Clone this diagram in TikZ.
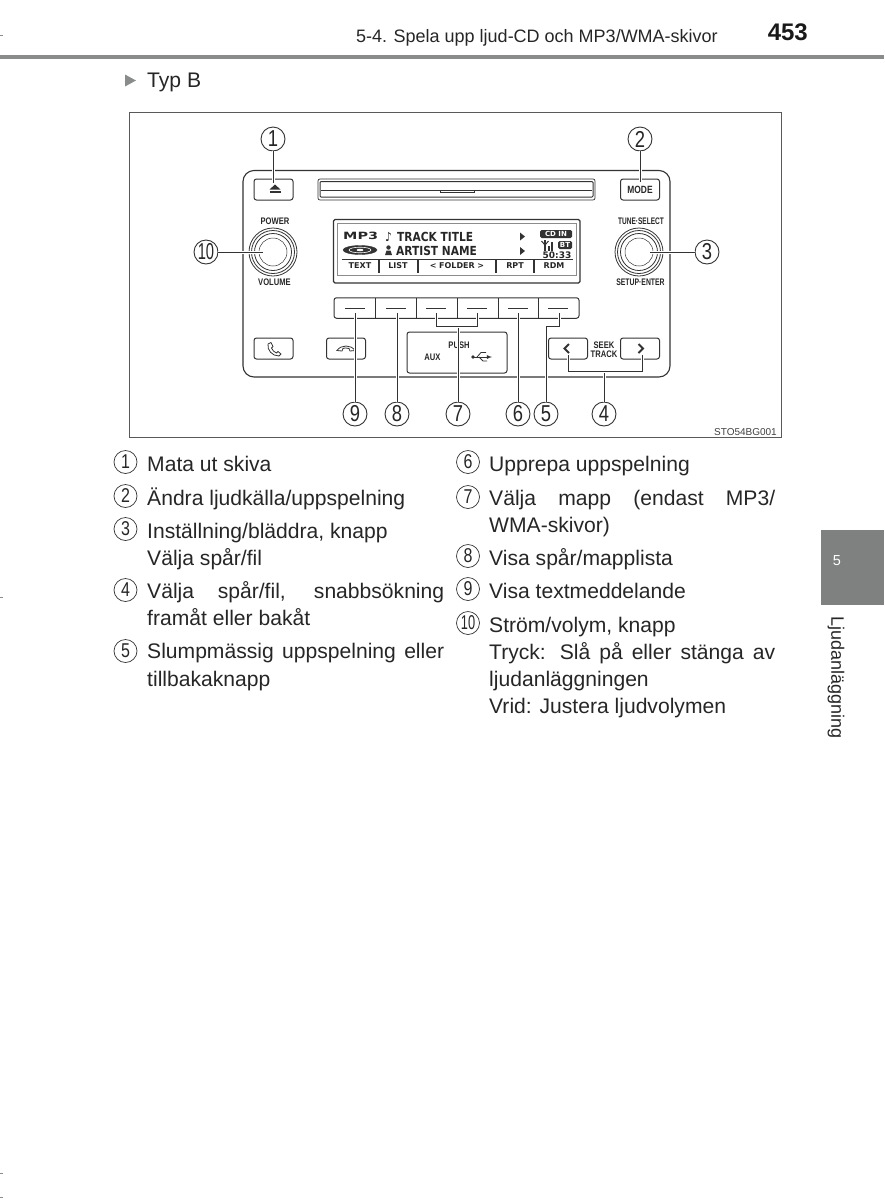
\documentclass[tikz,border=0pt]{standalone}
\usepackage{fontspec}
\setmainfont{Liberation Sans}
\newfontfamily\narrowfont[FakeStretch=0.8]{Liberation Sans}
\newfontfamily\dispfont{DejaVu Sans}
\newfontfamily\tightfont[FakeStretch=0.85]{DejaVu Sans}
\newcommand{\fitline}[2]{\makebox[#1pt][s]{#2}}
\definecolor{inkgray}{HTML}{333333}
\definecolor{rulegray}{HTML}{8A8C8C}
\definecolor{tabgray}{HTML}{7F8080}
\tikzset{
	bodyline/.style={anchor=base west, inner sep=0pt, text=black!85, font=\fontsize{21.1}{21.1}\selectfont},
	listnum/.style={draw=inkgray, circle, line width=0.7pt, minimum size=23pt, inner sep=0pt, text=black!85, font=\narrowfont\fontsize{20}{20}\selectfont},
	callnum/.style={draw=inkgray, circle, line width=0.9pt, fill=white, minimum size=24pt, inner sep=0pt, text=black!85, font=\narrowfont\fontsize{23}{23}\selectfont},
	panelbtn/.style={draw=inkgray, rectangle, rounded corners=2.5pt, line width=1pt, minimum width=39pt, minimum height=21pt, inner sep=0pt},
	paneltext/.style={inner sep=0pt, text=black!85, font=\narrowfont\bfseries\fontsize{9.5}{10.5}\selectfont, align=center},
	disptext/.style={inner sep=0pt, text=black!85, font=\tightfont\bfseries\fontsize{12.5}{12.5}\selectfont},
	softtext/.style={inner sep=0pt, text=black!85, font=\dispfont\bfseries\fontsize{8}{8}\selectfont},
	leader/.style={draw=inkgray, line width=1pt, preaction={draw=white, line width=3pt}},
}
\begin{document}
\begin{tikzpicture}[x=1pt, y=-1pt]
	\useasboundingbox (0, 0) rectangle (884, 1200);
	% Page head:
	\node[inner sep=0pt, anchor=base east, text=black!85, font=\fontsize{18}{18}\selectfont] (headtitle) at (718, 42){5-4. Spela upp ljud-CD och MP3/WMA-skivor};
	\node[inner sep=0pt, anchor=base east, text=black!90, font=\bfseries\fontsize{24}{24}\selectfont] (pagenum) at (808, 40){453};
	\fill[rulegray] (0, 55) rectangle (884, 59);
	\fill[rulegray] (125, 74.5) -- (136, 80.5) -- (125, 86.5) -- cycle;
	\node[bodyline] (typb) at (147, 87){Typ B};
	\fill[rulegray] (0, 34.5) rectangle (3, 35.5);
	\fill[rulegray] (0, 596.5) rectangle (3, 597.5);
	\fill[rulegray] (0, 1172.5) rectangle (3, 1173.5);
	\fill[rulegray] (0, 1196.5) rectangle (3, 1197.5);
	% Frame and radio body:
	\draw[draw=black!65, line width=1pt] (129.5, 112.5) rectangle (781, 437.5);
	\draw[draw=inkgray, line width=1.1pt, rounded corners=11pt] (243, 170.5) rectangle (670, 377);
	\node[panelbtn] (eject) at (273.5, 189.5){};
	\node[panelbtn, paneltext, draw=inkgray, font=\narrowfont\bfseries\fontsize{10.5}{10.5}\selectfont] (mode) at (640, 189.5){MODE};
	\draw[draw=inkgray, line width=0.7pt, rounded corners=2pt] (318, 179) rectangle (595, 200);
	\draw[draw=inkgray, line width=1pt, rounded corners=1pt] (320, 181.5) rectangle (593, 197);
	\draw[draw=inkgray, line width=0.5pt] (321, 190) -- (592, 190);
	\draw[draw=inkgray, line width=0.5pt] (440, 190) -- (440, 192.5) -- (474, 192.5) -- (474, 190);
	\fill[inkgray] (275, 184.5) -- (280.5, 189.5) -- (269.5, 189.5) -- cycle;
	\fill[inkgray] (269.5, 190.5) rectangle (280.5, 192.5);
	% Knobs:
	\node[paneltext] (powerlabel) at (275, 221){POWER};
	\node[paneltext] (volumelabel) at (274.5, 282){VOLUME};
	\node[paneltext] (tunelabel) at (641, 221){\scalebox{0.86}[1]{TUNE·SELECT}};
	\node[paneltext] (setuplabel) at (640.5, 282){\scalebox{0.9}[1]{SETUP·ENTER}};
	\draw[draw=inkgray, line width=0.8pt] (273, 252) circle (24);
	\draw[draw=inkgray, line width=0.8pt] (273, 252) circle (21.5);
	\draw[draw=inkgray, line width=0.8pt] (273, 252) circle (18.5);
	\draw[draw=inkgray, line width=0.5pt] (273, 252) circle (14);
	\draw[draw=inkgray, line width=0.8pt] (639, 252) circle (24);
	\draw[draw=inkgray, line width=0.8pt] (639, 252) circle (21.5);
	\draw[draw=inkgray, line width=0.8pt] (639, 252) circle (18.5);
	\draw[draw=inkgray, line width=0.5pt] (639, 252) circle (14);
	% Display:
	\draw[draw=inkgray, line width=1.2pt, rounded corners=1.5pt] (333.5, 219.5) rectangle (580, 283);
	\draw[draw=black!45, line width=0.6pt] (337, 223) rectangle (576, 275);
	\draw[draw=inkgray, line width=0.9pt] (342, 259) -- (573, 259);
	\node[inner sep=0pt, anchor=west, text=black!85, font=\dispfont\bfseries\fontsize{12.5}{12.5}\selectfont] (mp3) at (343, 236){\scalebox{1.15}[0.8]{MP3}};
	\draw[fill=inkgray, draw=inkgray] (360, 250) ellipse (17 and 4.5);
	\draw[draw=white, line width=0.6pt] (360, 250) ellipse (11 and 2.8);
	\fill[white] (360, 250) ellipse (3.5 and 1.2);
	\node[disptext, anchor=west] (tracknote) at (385, 236.5){♪};
	\node[disptext, anchor=west] (tracktitle) at (397, 236.5){TRACK TITLE};
	\fill[inkgray] (388.5, 247.5) circle (2.2);
	\fill[inkgray] (385, 255) -- (386.5, 250.5) -- (390.5, 250.5) -- (392, 255) -- cycle;
	\node[disptext, anchor=west] (artistname) at (396, 251){ARTIST NAME};
	\fill[inkgray] (520, 232.5) -- (525, 236.5) -- (520, 240.5) -- cycle;
	\fill[inkgray] (520, 247) -- (525, 251) -- (520, 255) -- cycle;
	\node[fill=inkgray, rounded corners=1.5pt, inner sep=0pt, minimum width=32pt, minimum height=8pt, text=white, font=\dispfont\bfseries\fontsize{7}{7}\selectfont] (cdin) at (556, 234){CD IN};
	\draw[draw=inkgray, line width=1.3pt] (545, 240) -- (545, 251);
	\draw[draw=inkgray, line width=1pt] (541.5, 241) -- (545, 245) -- (548.5, 241);
	\fill[inkgray] (548, 246) rectangle (549.5, 251);
	\fill[inkgray] (551, 242) rectangle (552.5, 251);
	\node[fill=inkgray, rounded corners=1.5pt, inner sep=0pt, minimum width=14pt, minimum height=8pt, text=white, font=\dispfont\bfseries\fontsize{7}{7}\selectfont] (btbadge) at (565, 245){BT};
	\node[softtext, font=\dispfont\bfseries\fontsize{9}{9}\selectfont] (clock) at (557, 255){50:33};
	\node[softtext] (softtextkey) at (360, 266){TEXT};
	\node[softtext] (softlist) at (398, 266){LIST};
	\node[softtext] (softfolder) at (457, 266){<\,\,FOLDER\,\,>};
	\node[softtext] (softrpt) at (515, 266){RPT};
	\node[softtext] (softrdm) at (554, 266){RDM};
	\draw[draw=inkgray, line width=1.2pt] (379, 260) -- (379, 273);
	\draw[draw=inkgray, line width=1.2pt] (418, 260) -- (418, 273);
	\draw[draw=inkgray, line width=1.2pt] (496, 260) -- (496, 273);
	\draw[draw=inkgray, line width=1.2pt] (534, 260) -- (534, 273);
	% Soft keys:
	\node[panelbtn, minimum width=245pt, minimum height=20.5pt] (softrow) at (456.5, 308){};
	\draw[draw=inkgray, line width=1pt] (375, 298) -- (375, 318);
	\draw[draw=inkgray, line width=1pt] (416, 298) -- (416, 318);
	\draw[draw=inkgray, line width=1pt] (457, 298) -- (457, 318);
	\draw[draw=inkgray, line width=1pt] (498, 298) -- (498, 318);
	\draw[draw=inkgray, line width=1pt] (538, 298) -- (538, 318);
	\draw[draw=inkgray, line width=0.8pt] (345, 308) -- (365, 308);
	\draw[draw=inkgray, line width=0.8pt] (386, 308) -- (406, 308);
	\draw[draw=inkgray, line width=0.8pt] (426, 308) -- (446, 308);
	\draw[draw=inkgray, line width=0.8pt] (467, 308) -- (487, 308);
	\draw[draw=inkgray, line width=0.8pt] (508, 308) -- (528, 308);
	\draw[draw=inkgray, line width=0.8pt] (548, 308) -- (568, 308);
	% Lower buttons:
	\node[panelbtn] (phone) at (273.5, 348.5){};
	\node[panelbtn] (hangup) at (346, 348.5){};
	\node[panelbtn, minimum width=100pt, minimum height=41pt] (usbbox) at (457, 352.5){};
	\node[panelbtn] (seekback) at (568, 348.5){};
	\node[panelbtn] (seekfwd) at (640, 348.5){};
	\draw[draw=inkgray, line width=0.8pt, line join=round] (268, 344) -- (271, 342.5) -- (273, 346.5) -- (271.5, 348) .. controls (272.5, 350.5) and (274, 352) .. (276.5, 353) -- (278, 351.5) -- (281, 354) -- (279, 356) .. controls (272, 356) and (267, 350) .. (268, 344) -- cycle;
	\draw[draw=inkgray, line width=0.8pt] (337, 350.5) .. controls (341, 344.5) and (351, 344.5) .. (355, 350.5) -- (350, 351) -- (349, 348.5) .. controls (346, 347.5) and (344, 348) .. (343, 348.5) -- (342, 351) -- cycle;
	\node[paneltext] (auxlabel) at (432.5, 357){AUX};
	\node[paneltext] (pushlabel) at (459, 345){PUSH};
	\fill[inkgray] (473, 357) circle (1.8);
	\draw[draw=inkgray, line width=0.8pt, -latex] (473, 357) -- (492, 357);
	\draw[draw=inkgray, line width=0.8pt] (477, 357) -- (481, 352.5) -- (486, 352.5);
	\draw[draw=inkgray, line width=0.8pt] (479, 357) -- (483, 361) -- (487, 361);
	\draw[draw=inkgray, line width=1.8pt] (569, 344) -- (564.5, 348.5) -- (569, 353);
	\draw[draw=inkgray, line width=1.8pt] (638.5, 344) -- (643, 348.5) -- (638.5, 353);
	\node[paneltext] (seeklabel) at (604, 349.5){SEEK\\[-1pt]TRACK};
	% Callouts:
	\node[callnum] (num1) at (273, 139){1};
	\node[callnum] (num2) at (640, 139){2};
	\node[callnum] (num3) at (707, 252){3};
	\node[callnum] (num4) at (604, 414){4};
	\node[callnum] (num5) at (546, 414){5};
	\node[callnum] (num6) at (518, 414){6};
	\node[callnum] (num7) at (458, 414){7};
	\node[callnum] (num8) at (397, 414){8};
	\node[callnum] (num9) at (355, 414){9};
	\node[callnum] (num10) at (206, 252){\scalebox{0.8}[1]{10}};
	\coordinate (tip1) at (273, 183);
	\coordinate (tip2) at (640, 182);
	\coordinate (tip3) at (650, 252);
	\coordinate (tip4a) at (568, 355);
	\coordinate (tip4b) at (642, 355);
	\coordinate (tip5) at (559, 313);
	\coordinate (tip6) at (518, 313);
	\coordinate (tip7a) at (436, 313);
	\coordinate (tip7b) at (477, 313);
	\coordinate (tip8) at (397, 313);
	\coordinate (tip9) at (355, 313);
	\coordinate (tip10) at (263, 252);
	\draw[leader] (num1) -- (tip1);
	\draw[leader] (num2) -- (tip2);
	\draw[leader] (num3) -- (tip3);
	\draw[leader] (num4.north) -- (604, 371);
	\draw[leader] (tip4a) |- (tip4b |- 371, 371) -- (tip4b);
	\draw[leader] (num5.north) |- (tip5 |- 326, 326) -- (tip5);
	\draw[leader] (num6) -- (tip6);
	\draw[leader] (num7.north) -- (458, 326);
	\draw[leader] (tip7a) |- (tip7b |- 326, 326) -- (tip7b);
	\draw[leader] (num8) -- (tip8);
	\draw[leader] (num9) -- (tip9);
	\draw[leader] (num10) -- (tip10);
	\node[inner sep=0pt, anchor=base east, text=black!75, font=\fontsize{10}{10}\selectfont] (figcode) at (777, 435){STO54BG001};
	% Left list:
	\node[listnum] (item1) at (125.5, 462){1};
	\node[bodyline] (item1a) at (147, 471){Mata ut skiva};
	\node[listnum] (item2) at (125.5, 496){2};
	\node[bodyline] (item2a) at (147, 505){Ändra ljudkälla/uppspelning};
	\node[listnum] (item3) at (125.5, 529){3};
	\node[bodyline] (item3a) at (147, 538){Inställning/bläddra, knapp};
	\node[bodyline] (item3b) at (147, 565){Välja spår/fil};
	\node[listnum] (item4) at (125.5, 590){4};
	\node[bodyline] (item4a) at (147, 598){\fitline{297}{Välja spår/fil, snabbsökning}};
	\node[bodyline] (item4b) at (147, 625){framåt eller bakåt};
	\node[listnum] (item5) at (125.5, 651){5};
	\node[bodyline] (item5a) at (147, 658.5){\fitline{297}{Slumpmässig uppspelning eller}};
	\node[bodyline] (item5b) at (147, 686){tillbakaknapp};
	% Right list:
	\node[listnum] (item6) at (468, 462){6};
	\node[bodyline] (item6a) at (489, 471){Upprepa uppspelning};
	\node[listnum] (item7) at (468, 497){7};
	\node[bodyline] (item7a) at (489, 505){\fitline{286}{Välja mapp (endast MP3/}};
	\node[bodyline] (item7b) at (489, 532){WMA-skivor)};
	\node[listnum] (item8) at (468, 556){8};
	\node[bodyline] (item8a) at (489, 565){Visa spår/mapplista};
	\node[listnum] (item9) at (468, 589){9};
	\node[bodyline] (item9a) at (489, 598){Visa textmeddelande};
	\node[listnum] (item10) at (468, 623){\scalebox{0.8}[1]{10}};
	\node[bodyline] (item10a) at (489, 632){Ström/volym, knapp};
	\node[bodyline] (item10b) at (489, 659){\fitline{286}{Tryck: Slå på eller stänga av}};
	\node[bodyline] (item10c) at (489, 686){ljudanläggningen};
	\node[bodyline] (item10d) at (489, 713){Vrid: Justera ljudvolymen};
	% Side tab:
	\fill[tabgray] (821, 530) rectangle (884, 605);
	\node[inner sep=0pt, text=white, font=\fontsize{14.5}{14.5}\selectfont] (tabnum) at (837, 561){5};
	\node[inner sep=0pt, anchor=west, rotate=-90, text=black!85, font=\fontsize{18}{18}\selectfont] (tabtitle) at (836, 616){Ljudanläggning};
\end{tikzpicture}
\end{document}
